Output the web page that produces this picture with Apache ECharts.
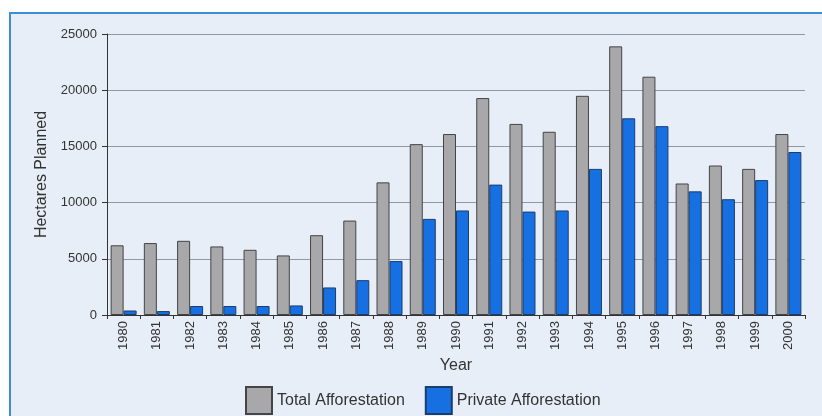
<!DOCTYPE html>
<html>
<head>
<meta charset="utf-8">
<script src="https://cdn.jsdelivr.net/npm/echarts@6/dist/echarts.min.js"></script>
<style>
  html, body { margin: 0; padding: 0; background: #fff; }
  #chart { width: 822px; height: 416px; }
</style>
</head>
<body>
<div id="chart"></div>
<script>
// years on the x axis
const years = ["1980", "1981", "1982", "1983", "1984", "1985", "1986", "1987", "1988", "1989", "1990",
  "1991", "1992", "1993", "1994", "1995", "1996", "1997", "1998", "1999", "2000"];
// hectares planned
const totalAfforestation = [6200, 6400, 6600, 6100, 5800, 5300, 7100, 8400, 11800, 15200, 16100,
  19300, 17000, 16300, 19500, 23900, 21200, 11700, 13300, 13000, 16100];
const privateAfforestation = [400, 350, 800, 800, 800, 850, 2450, 3100, 4800, 8550, 9300,
  11600, 9200, 9300, 13000, 17500, 16800, 11000, 10300, 12000, 14500];
const yTicks = { min: 0, max: 25000, interval: 5000 };

const fontName = "Liberation Sans Narrow, Liberation Sans, Arial";

const chart = echarts.init(document.getElementById("chart"));

chart.setOption({
  backgroundColor: "#ffffff",
  graphic: [
    {
      // light blue panel with the blue frame line on top and left
      type: "rect",
      shape: { x: 10, y: 13, width: 830, height: 420 },
      style: { fill: "#e7eef8", stroke: "#3b8fd6", lineWidth: 2 },
      z: -10
    }
  ],
  grid: { left: 107, right: 17, top: 34, bottom: 101 },
  legend: {
    top: 381,
    left: 240,
    icon: "rect",
    itemWidth: 26,
    itemHeight: 27,
    itemGap: 20,
    textStyle: { fontFamily: fontName, fontSize: 16, color: "#333" },
    data: ["Total Afforestation", "Private Afforestation"]
  },
  xAxis: {
    type: "category",
    data: years,
    name: "Year",
    nameLocation: "middle",
    nameGap: 40,
    nameTextStyle: { fontFamily: fontName, fontSize: 16, color: "#333" },
    axisLine: { show: true, lineStyle: { color: "#333", width: 1 } },
    axisTick: { show: true, length: 4, lineStyle: { color: "#333" } },
    axisLabel: {
      rotate: 90,
      interval: 0,
      margin: 6,
      fontFamily: fontName,
      fontSize: 13,
      color: "#333"
    }
  },
  yAxis: {
    type: "value",
    min: yTicks.min,
    max: yTicks.max,
    interval: yTicks.interval,
    name: "Hectares Planned",
    nameLocation: "middle",
    nameGap: 56,
    nameTextStyle: { fontFamily: fontName, fontSize: 16, color: "#333" },
    axisLine: { show: true, lineStyle: { color: "#333" } },
    axisTick: { show: true, length: 5, lineStyle: { color: "#333" } },
    splitLine: { show: true, lineStyle: { color: "#8f98a3", width: 1 } },
    axisLabel: {
      margin: 10,
      // plain numbers, no thousands separator
      formatter: function (v) { return String(v); },
      fontFamily: fontName,
      fontSize: 13,
      color: "#333"
    }
  },
  series: [
    {
      name: "Total Afforestation",
      type: "bar",
      data: totalAfforestation,
      barWidth: 13,
      barGap: "0%",
      itemStyle: { color: "#a8a8ab", borderColor: "#444", borderWidth: 1 }
    },
    {
      name: "Private Afforestation",
      type: "bar",
      data: privateAfforestation,
      barWidth: 13,
      itemStyle: { color: "#1670e2", borderColor: "#1b3d6e", borderWidth: 1 }
    }
  ]
});
</script>
</body>
</html>
